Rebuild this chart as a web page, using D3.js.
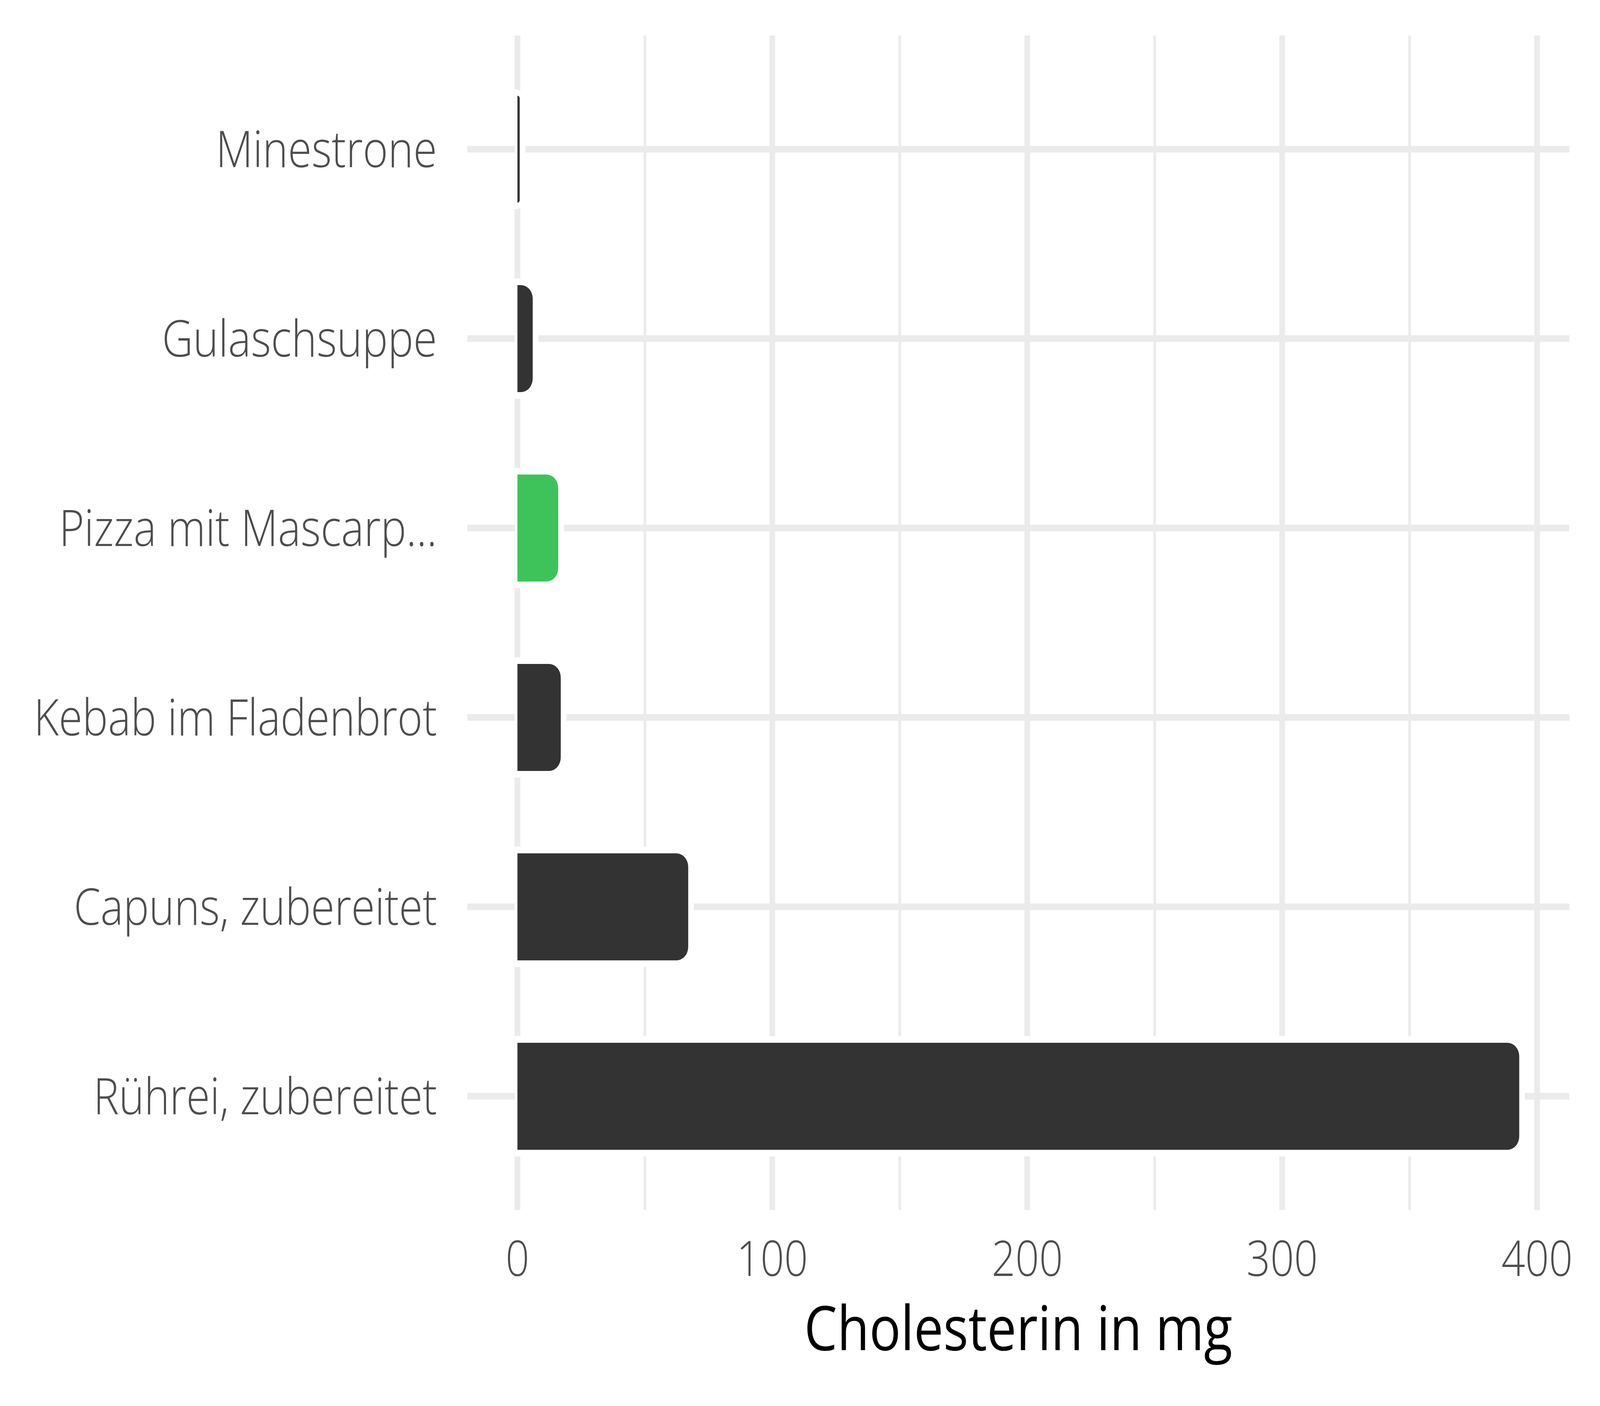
<!DOCTYPE html>
<html>
<head>
<meta charset="utf-8">
<script src="https://cdn.jsdelivr.net/npm/d3@7"></script>
<style>
  html, body { margin: 0; padding: 0; background: #fff; overflow: hidden; width: 100%; height: 100%; }
  svg { display: block; width: 100vw; height: 100vh; }
  text { font-family: "Open Sans", "Noto Sans", sans-serif; }
</style>
</head>
<body>
<div id="chart"></div>
<script>
// data
var foods = ["Minestrone", "Gulaschsuppe", "Pizza mit Mascarp...", "Kebab im Fladenbrot", "Capuns, zubereitet", "Rührei, zubereitet"];
var cholesterol = [0.9, 6, 16, 17, 67, 393];
var highlight = [false, false, true, false, false, false];
var xTicks = [0, 100, 200, 300, 400];
var xMinor = [50, 150, 250, 350];

var svgWidth = 4800;
var svgHeight = 3600;

var panel = { left: 1402, right: 4708, top: 91, bottom: 3098 };

// drawing in 4800x3600 units, stretched over the whole window
var svg = d3.select("#chart")
    .append("svg")
    .attr("viewBox", `0 0 ${svgWidth} ${svgHeight}`)
    .attr("preserveAspectRatio", "none");

svg.append("rect")
    .attr("width", svgWidth)
    .attr("height", svgHeight)
    .attr("fill", "#fff");

// scales (ggplot style 5% expansion)
var maxVal = d3.max(cholesterol);
var xScale = d3.scaleLinear()
    .domain([-maxVal * 0.05, maxVal * 1.05])
    .range([panel.left, panel.right]);

var yScale = d3.scalePoint()
    .domain(foods)
    .range([panel.top, panel.bottom])
    .padding(0.6);

var barH = yScale.step() * 0.565;

// grid
var grid = svg.append("g");
grid.selectAll(".minor")
    .data(xMinor)
    .enter()
    .append("line")
    .attr("x1", d => xScale(d))
    .attr("x2", d => xScale(d))
    .attr("y1", panel.top)
    .attr("y2", panel.bottom)
    .attr("stroke", "#ebebeb")
    .attr("stroke-width", 8);

grid.selectAll(".major")
    .data(xTicks)
    .enter()
    .append("line")
    .attr("x1", d => xScale(d))
    .attr("x2", d => xScale(d))
    .attr("y1", panel.top)
    .attr("y2", panel.bottom)
    .attr("stroke", "#ebebeb")
    .attr("stroke-width", 17);

grid.selectAll(".hgrid")
    .data(foods)
    .enter()
    .append("line")
    .attr("x1", panel.left)
    .attr("x2", panel.right)
    .attr("y1", d => yScale(d))
    .attr("y2", d => yScale(d))
    .attr("stroke", "#ebebeb")
    .attr("stroke-width", 17);

// bar with rounded right side
function barPath(x0, x1, y0, y1, r) {
    r = Math.min(r, x1 - x0, (y1 - y0) / 2);
    return "M" + x0 + "," + y0 +
        "H" + (x1 - r) +
        "A" + r + "," + r + " 0 0 1 " + x1 + "," + (y0 + r) +
        "V" + (y1 - r) +
        "A" + r + "," + r + " 0 0 1 " + (x1 - r) + "," + y1 +
        "H" + x0 + "Z";
}

var rows = foods.map(function (f, i) {
    return { name: f, value: cholesterol[i], hl: highlight[i] };
});

// white halo behind bars
svg.append("g").selectAll("path")
    .data(rows)
    .enter()
    .append("path")
    .attr("d", d => barPath(xScale(0) - 8, xScale(d.value) + 17,
        yScale(d.name) - barH / 2 - 17, yScale(d.name) + barH / 2 + 17, 52))
    .attr("fill", "#fff");

svg.append("g").selectAll("path")
    .data(rows)
    .enter()
    .append("path")
    .attr("d", d => barPath(xScale(0), xScale(d.value),
        yScale(d.name) - barH / 2, yScale(d.name) + barH / 2, 35))
    .attr("fill", d => d.hl ? "#3ec35a" : "#333333");

// category labels
svg.append("g").selectAll("text")
    .data(foods)
    .enter()
    .append("text")
    .attr("x", 1311)
    .attr("y", d => yScale(d))
    .attr("dy", "0.36em")
    .attr("text-anchor", "end")
    .attr("font-size", 129)
    .attr("font-weight", 300)
    .attr("fill", "#4d4d4d")
    .text(d => d);

// x tick labels
svg.append("g").selectAll("text")
    .data(xTicks)
    .enter()
    .append("text")
    .attr("x", d => xScale(d))
    .attr("y", 3267)
    .attr("text-anchor", "middle")
    .attr("font-size", 125)
    .attr("font-weight", 300)
    .attr("fill", "#4d4d4d")
    .text(d => d);

// axis title
svg.append("text")
    .attr("x", (panel.left + panel.right) / 2)
    .attr("y", 3457)
    .attr("text-anchor", "middle")
    .attr("font-size", 157)
    .attr("fill", "#000")
    .text("Cholesterin in mg");
</script>
</body>
</html>
